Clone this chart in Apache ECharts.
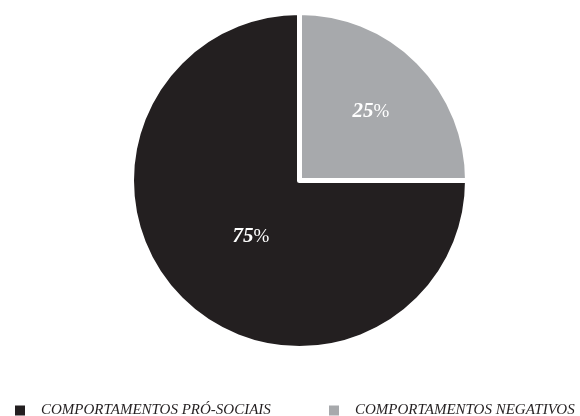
<!DOCTYPE html>
<html>
<head>
<meta charset="utf-8">
<script src="https://cdn.jsdelivr.net/npm/echarts@6/dist/echarts.min.js"></script>
<style>
  html, body { margin: 0; padding: 0; background: #ffffff; }
  #chart { width: 580px; height: 416px; }
</style>
</head>
<body>
<div id="chart"></div>
<script>
// Share of observed behaviours
const categories = ['COMPORTAMENTOS PRÓ-SOCIAIS', 'COMPORTAMENTOS NEGATIVOS'];
const shares = [75, 25];
const colors = ['#231f20', '#a7a9ac'];

const serif = '"Liberation Serif", "DejaVu Serif", serif';

// Small nudges of the percentage labels away from the default mid-radius spot
const labelNudge = { 'COMPORTAMENTOS PRÓ-SOCIAIS': [13, -5], 'COMPORTAMENTOS NEGATIVOS': [10, -7] };

const chart = echarts.init(document.getElementById('chart'));

const legendText = { fontFamily: serif, fontStyle: 'italic', fontSize: 15, color: '#231f20', padding: [0, 0, 0, 10] };

// Slices are drawn from 12 o'clock clockwise: negative behaviours first
const order = [1, 0];

chart.setOption({
  animation: false,
  legend: [
    { data: [categories[0]], left: 8, top: 398, itemWidth: 12, itemHeight: 12, icon: 'rect', textStyle: legendText },
    { data: [categories[1]], left: 322, top: 398, itemWidth: 12, itemHeight: 12, icon: 'rect', textStyle: legendText }
  ],
  series: [{
    type: 'pie',
    center: [299.5, 180.5],
    radius: [0, 168],
    startAngle: 90,
    clockwise: true,
    itemStyle: { borderColor: '#ffffff', borderWidth: 5 },
    label: {
      position: 'inside',
      formatter: p => '{n|' + p.value + '}{p|%}',
      rich: {
        n: { fontFamily: serif, fontStyle: 'italic', fontWeight: 'bold', fontSize: 21, color: '#ffffff' },
        p: { fontFamily: serif, fontSize: 19, color: '#ffffff' }
      }
    },
    labelLayout: params => {
      const d = labelNudge[categories[order[params.dataIndex]]];
      return { dx: d[0], dy: d[1] };
    },
    labelLine: { show: false },
    data: order.map(i => ({ name: categories[i], value: shares[i], itemStyle: { color: colors[i] } }))
  }]
});
</script>
</body>
</html>
